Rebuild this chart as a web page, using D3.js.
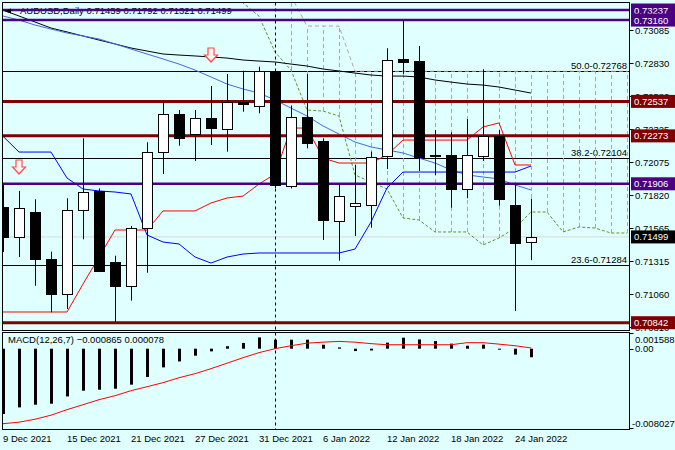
<!DOCTYPE html>
<html><head><meta charset="utf-8">
<script src="https://cdn.jsdelivr.net/npm/d3@7"></script>
<style>
body{margin:0;background:#e0ffff;}
svg{display:block;font-family:"Liberation Sans",Arial,sans-serif;}
</style>
</head><body>
<svg id="c" width="675" height="450"></svg>
<script>
// ---------------- data ----------------
const dates = ["2021-12-09","2021-12-10","2021-12-13","2021-12-14","2021-12-15","2021-12-16","2021-12-17","2021-12-20","2021-12-21","2021-12-22","2021-12-23","2021-12-24","2021-12-27","2021-12-28","2021-12-29","2021-12-30","2021-12-31","2022-01-03","2022-01-04","2022-01-05","2022-01-06","2022-01-07","2022-01-10","2022-01-11","2022-01-12","2022-01-13","2022-01-14","2022-01-17","2022-01-18","2022-01-19","2022-01-20","2022-01-21","2022-01-24","2022-01-25","2022-01-26","2022-01-27","2022-01-28","2022-01-31","2022-02-01","2022-02-02"];
const openP  = [0.71728,0.71496,0.71688,0.71328,0.71060,0.71705,0.71851,0.71305,0.71123,0.71565,0.72147,0.72438,0.72285,0.72408,0.72328,0.72535,0.72504,0.72760,0.71891,0.72418,0.72231,0.71626,0.71734,0.71738,0.72119,0.72859,0.72846,0.72121,0.72124,0.71864,0.72124,0.72272,0.71744,0.71459];
const highP  = [0.71897,0.71851,0.71787,0.71386,0.71795,0.72254,0.71871,0.71355,0.71583,0.72224,0.72535,0.72471,0.72471,0.72655,0.72747,0.72772,0.72803,0.72770,0.72506,0.72747,0.72254,0.71902,0.72050,0.72152,0.72944,0.73160,0.72961,0.72318,0.72300,0.72402,0.72783,0.72318,0.71897,0.71792];
const lowP   = [0.71384,0.71345,0.71125,0.70922,0.70947,0.71481,0.71230,0.70847,0.71011,0.71225,0.71981,0.72198,0.72081,0.72203,0.72152,0.72458,0.72446,0.71874,0.71870,0.72178,0.71475,0.71317,0.71506,0.71570,0.72019,0.72747,0.72004,0.71973,0.71723,0.71795,0.72081,0.71738,0.70932,0.71321];
const closeP = [0.71495,0.71718,0.71328,0.71060,0.71703,0.71845,0.71238,0.71118,0.71565,0.72147,0.72438,0.72254,0.72408,0.72328,0.72535,0.72519,0.72772,0.71891,0.72420,0.72221,0.71623,0.71815,0.71756,0.72109,0.72852,0.72836,0.72113,0.72123,0.71864,0.72124,0.72274,0.71787,0.71455,0.71499];

const maBlack = [0.73237,0.73191,0.73145,0.73099,0.73069,0.73038,0.73007,0.72977,0.72946,0.72923,0.72900,0.72892,0.72885,0.72877,0.72869,0.72854,0.72846,0.72839,0.72823,0.72808,0.72785,0.72770,0.72754,0.72739,0.72731,0.72731,0.72724,0.72701,0.72685,0.72670,0.72662,0.72647,0.72624,0.72601];
const maBlue  = [0.73191,0.73160,0.73122,0.73091,0.73061,0.73038,0.73015,0.72977,0.72938,0.72900,0.72862,0.72823,0.72777,0.72724,0.72670,0.72632,0.72601,0.72548,0.72486,0.72425,0.72349,0.72287,0.72226,0.72188,0.72165,0.72142,0.72103,0.72065,0.72012,0.71974,0.71958,0.71943,0.71897,0.71859];
const tenkan  = [0.70924,0.70924,0.70924,0.70924,0.70924,0.71138,0.71345,0.71552,0.71552,0.71552,0.71698,0.71698,0.71698,0.71759,0.71797,0.71812,0.71904,0.71981,0.72333,0.72333,0.72103,0.72065,0.72065,0.72065,0.72127,0.72241,0.72241,0.72241,0.72241,0.72241,0.72341,0.72372,0.72050,0.72050];
const kijun   = [0.72270,0.72149,0.72149,0.72149,0.71950,0.71866,0.71851,0.71843,0.71828,0.71514,0.71460,0.71445,0.71345,0.71299,0.71345,0.71368,0.71376,0.71376,0.71376,0.71376,0.71376,0.71376,0.71406,0.71613,0.71874,0.71996,0.71996,0.71996,0.71996,0.71996,0.71996,0.71996,0.71996,0.72042];
const spanA = [null,null,null,null,null,null,null,null,null,null,null,null,null,null,0.73402,0.73291,0.73190,0.72915,0.72777,0.72471,0.72463,0.72425,0.71973,0.71920,0.71866,0.71644,0.71629,0.71537,0.71537,0.71537,0.71437,0.71491,0.71567,0.71690,0.71690,0.71537,0.71575,0.71567,0.71529,0.71529];
const spanB = [null,null,null,null,null,null,null,null,null,null,null,null,null,null,null,null,null,null,0.73344,0.73114,0.73114,0.73114,0.72768,0.72768,0.72768,0.72768,0.72768,0.72768,0.72768,0.72768,0.72768,0.72768,0.72768,0.72768,0.72768,0.72768,0.72768,0.72768,0.72768,0.72768];

const macdMain   = [-0.00661,-0.00594,-0.00567,-0.00557,-0.00483,-0.00425,-0.00415,-0.00405,-0.00364,-0.00286,-0.00189,-0.00129,-0.00071,-0.00027,0.00025,0.00058,0.00114,0.00091,0.00091,0.00091,0.00040,0.00013,-0.00024,-0.00018,0.00061,0.00111,0.00094,0.00077,0.00051,0.00030,0.00041,-0.00008,-0.00060,-0.000865];
const macdSignal = [-0.00759,-0.00744,-0.00714,-0.00673,-0.00617,-0.00567,-0.00516,-0.00476,-0.00425,-0.00385,-0.00344,-0.00294,-0.00253,-0.00202,-0.00147,-0.00091,-0.00040,0.00000,0.00030,0.00056,0.00066,0.00074,0.00066,0.00051,0.00040,0.00040,0.00040,0.00040,0.00040,0.00061,0.00061,0.00046,0.00030,0.000078];

const purpleLevels = [0.73237,0.73160,0.71906];
const maroonLevels = [0.72537,0.72273,0.70842];
const fibLevels = [0.72768,0.72104,0.71284];
const fibNames  = ["50.0","38.2","23.6"];
const priceTicks = [0.73085,0.72830,0.72580,0.72325,0.72075,0.71820,0.71565,0.71315,0.71060,0.70810];
const dateLabels = ["9 Dec 2021","15 Dec 2021","21 Dec 2021","27 Dec 2021","31 Dec 2021","6 Jan 2022","12 Jan 2022","18 Jan 2022","24 Jan 2022"];
const dateLabelKeys = ["2021-12-09","2021-12-15","2021-12-21","2021-12-27","2021-12-31","2022-01-06","2022-01-12","2022-01-18","2022-01-24"];
const macdTicks = [0.001588,0.00,-0.008027];
const macdTickText = ["0.001588","0.00","-0.008027"];
const arrowBars = [1,13];
const arrowPrices = [0.72088,0.72946];
const separatorBar = 17;
const priceRange = [0.707823,0.732945];
const macdRange = [-0.008027,0.001588];

// ---------------- layout ----------------
const svg = d3.select("#c");
const L=2.5,R=629.5,T=2.5,B=330.5,MT=332.5,MB=429.5;
const x = d3.scaleLinear().domain([0,dates.length-1]).range([3,627]);
const y = d3.scaleLinear().domain(priceRange).range([B,T]);
const ym = d3.scaleLinear().domain(macdRange).range([428,333]);
const fmt5 = d3.format(".5f");

svg.append("rect").attr("width",675).attr("height",450).attr("fill","#e0ffff");
const defs = svg.append("defs");
defs.append("clipPath").attr("id","cm").append("rect").attr("x",L).attr("y",T).attr("width",R-L).attr("height",B-T);
defs.append("clipPath").attr("id","cd").append("rect").attr("x",L).attr("y",MT).attr("width",R-L).attr("height",MB-MT);

const g = svg.append("g").attr("clip-path","url(#cm)");

// header
g.append("text").attr("x",20).attr("y",14).attr("font-size",9.5).attr("fill","#000")
 .text("AUDUSD,Daily  "+[openP,highP,lowP,closeP].map(a=>fmt5(a[a.length-1])).join(" "));

// bid line
g.append("line").attr("x1",L).attr("x2",R).attr("y1",y(closeP[closeP.length-1])).attr("y2",y(closeP[closeP.length-1]))
 .attr("stroke","#d8d8d8").attr("stroke-width",1);

// fib lines
fibLevels.forEach((p,k)=>{
  g.append("line").attr("x1",L).attr("x2",R).attr("y1",Math.round(y(p))+0.5).attr("y2",Math.round(y(p))+0.5)
   .attr("stroke","#000").attr("stroke-width",1);
  g.append("text").attr("x",627).attr("y",Math.round(y(p))-2).attr("text-anchor","end").attr("font-size",9.5)
   .attr("fill","#000").text(fibNames[k]+"-"+fmt5(p));
});

// cloud hatching
const idx = d3.range(dates.length);
idx.filter(i=>spanA[i]!=null && spanB[i]!=null).forEach(i=>{
  g.append("line").attr("x1",x(i)+0.5).attr("x2",x(i)+0.5).attr("y1",y(spanA[i])).attr("y2",y(spanB[i]))
   .attr("stroke","#c89a9a").attr("stroke-width",1).attr("stroke-dasharray","4,3");
});
const lineOf = arr => d3.line().defined(i=>arr[i]!=null).x(i=>x(i)).y(i=>y(arr[i]));
g.append("path").attr("d",lineOf(spanB)(idx)).attr("fill","none").attr("stroke","#c89a9a").attr("stroke-width",1).attr("stroke-dasharray","4,3");
g.append("path").attr("d",lineOf(spanA)(idx)).attr("fill","none").attr("stroke","#6b8e23").attr("stroke-width",1).attr("stroke-dasharray","3,2");

const cidx = d3.range(openP.length);
[[maBlack,"#000"],[maBlue,"#4169e1"],[tenkan,"#ff0000"],[kijun,"#0000ff"]].forEach(([arr,col])=>{
  g.append("path").attr("d",lineOf(arr)(cidx)).attr("fill","none").attr("stroke",col).attr("stroke-width",1);
});

// level lines
purpleLevels.forEach(p=>{
  g.append("line").attr("x1",L).attr("x2",R).attr("y1",y(p)).attr("y2",y(p)).attr("stroke","#4b0082").attr("stroke-width",2.5);
});
maroonLevels.forEach(p=>{
  g.append("line").attr("x1",L).attr("x2",R).attr("y1",y(p)).attr("y2",y(p)).attr("stroke","#800000").attr("stroke-width",3);
});

// candles
cidx.forEach(i=>{
  const cx = Math.round(x(i))+0.5;
  g.append("line").attr("x1",cx).attr("x2",cx).attr("y1",y(highP[i])).attr("y2",y(lowP[i])).attr("stroke","#000").attr("stroke-width",1);
  const up = closeP[i]>=openP[i];
  const top = y(Math.max(openP[i],closeP[i])), bot = y(Math.min(openP[i],closeP[i]));
  g.append("rect").attr("x",cx-5).attr("width",10).attr("y",Math.round(top)+0.5).attr("height",Math.max(1,Math.round(bot-top)))
   .attr("fill",up?"#fff":"#000").attr("stroke","#000").attr("stroke-width",1);
});

// arrows
arrowBars.forEach((b,k)=>{
  const cx = x(b), ty = y(arrowPrices[k]);
  const p = `M${cx-3},${ty} L${cx+3},${ty} L${cx+3},${ty+7} L${cx+6.5},${ty+7} L${cx},${ty+14} L${cx-6.5},${ty+7} L${cx-3},${ty+7} Z`;
  g.append("path").attr("d",p).attr("fill","#fff4f4").attr("stroke","#ff4a4a").attr("stroke-width",1.2);
});

// top-left marker
g.append("path").attr("d","M4,11 L11,8.5 L11,13.5 Z").attr("fill","#000");

// ---------------- MACD ----------------
const gm = svg.append("g").attr("clip-path","url(#cd)");
cidx.forEach(i=>{
  const v = macdMain[i];
  gm.append("rect").attr("x",Math.round(x(i))-1).attr("width",3)
    .attr("y",Math.min(ym(0),ym(v))).attr("height",Math.max(1,Math.abs(ym(v)-ym(0)))).attr("fill","#000");
});
gm.append("path").attr("d",d3.line().x(i=>x(i)).y(i=>ym(macdSignal[i]))(cidx)).attr("fill","none").attr("stroke","#ff0000").attr("stroke-width",1);
svg.append("text").attr("x",8).attr("y",343).attr("font-size",9.5).attr("fill","#000")
  .text("MACD(12,26,7) "+d3.format(".6f")(macdMain[macdMain.length-1])+" "+d3.format(".6f")(macdSignal[macdSignal.length-1]));

// separator
svg.append("line").attr("x1",Math.round(x(separatorBar))+0.5).attr("x2",Math.round(x(separatorBar))+0.5).attr("y1",T).attr("y2",MB)
  .attr("stroke","#000").attr("stroke-width",1).attr("stroke-dasharray","3,3");

// frames
svg.append("rect").attr("x",L).attr("y",T).attr("width",R-L).attr("height",B-T).attr("fill","none").attr("stroke","#000");
svg.append("rect").attr("x",L).attr("y",MT).attr("width",R-L).attr("height",MB-MT).attr("fill","none").attr("stroke","#000");

// price axis ticks
const ax = svg.append("g");
priceTicks.forEach(p=>{
  const yy = Math.round(y(p))+0.5;
  if (yy>B) return;
  ax.append("line").attr("x1",R).attr("x2",R+4).attr("y1",yy).attr("y2",yy).attr("stroke","#000");
  ax.append("text").attr("x",635).attr("y",yy+3.5).attr("font-size",9.5).attr("fill","#000").text(fmt5(p));
});
// cover below main panel on axis side for cut labels
svg.append("rect").attr("x",R+0.5).attr("y",B+0.5).attr("width",675-R).attr("height",MT-B-1).attr("fill","#e0ffff");

// level label boxes
const boxes = purpleLevels.map(p=>[p,"#4b0082"]).concat(maroonLevels.map(p=>[p,"#800000"])).concat([[closeP[closeP.length-1],"#000"]]);
boxes.forEach(([p,col])=>{
  const yy = y(p);
  ax.append("rect").attr("x",631).attr("y",yy-6.5).attr("width",44).attr("height",13).attr("fill",col);
  ax.append("text").attr("x",634).attr("y",yy+3.5).attr("font-size",9.5).attr("fill","#fff").text(fmt5(p));
});

// macd axis
macdTicks.forEach((v,k)=>{
  const yy = ym(v);
  const ty = k===0 ? yy+10 : (k===2 ? yy-1 : yy+3.5);
  svg.append("line").attr("x1",R).attr("x2",R+4).attr("y1",Math.round(yy)+0.5).attr("y2",Math.round(yy)+0.5).attr("stroke","#000");
  svg.append("text").attr("x",k===2?632:635).attr("y",ty).attr("font-size",9.5).attr("fill","#000").text(macdTickText[k]);
});

// date labels
dateLabelKeys.forEach((d,k)=>{
  const i = dates.indexOf(d);
  svg.append("text").attr("x",x(i)).attr("y",442).attr("font-size",9.5).attr("fill","#000").text(dateLabels[k]);
});
</script>
</body></html>
